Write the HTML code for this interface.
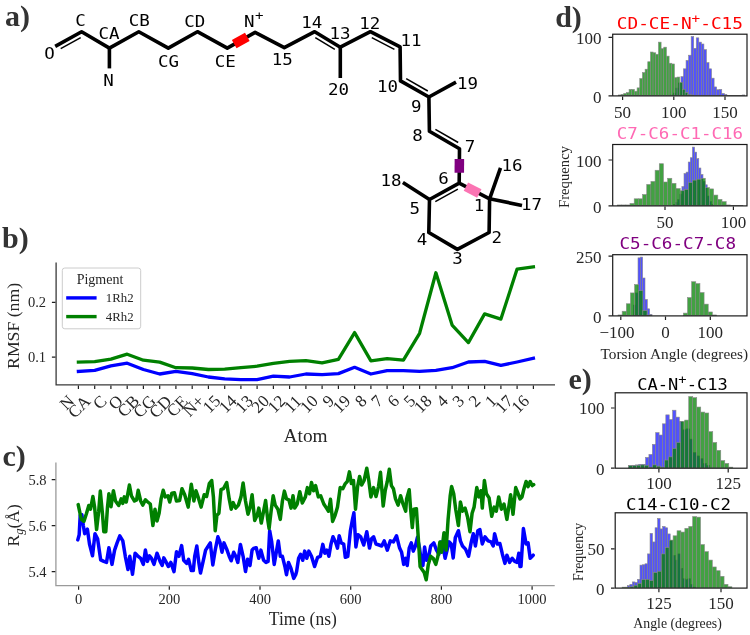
<!DOCTYPE html>
<html lang="en"><head><meta charset="utf-8"><title>Figure</title>
<style>html,body{margin:0;padding:0;background:#fff}svg{display:block}.s{font-family:'Liberation Serif','DejaVu Serif',serif;fill:#262626}.m{font-family:'DejaVu Sans Mono','Liberation Mono',monospace;fill:#000}.pl{font-family:'Liberation Serif','DejaVu Serif',serif;font-weight:bold;fill:#333}</style>
</head><body>
<svg width="750" height="635" viewBox="0 0 750 635">
<rect width="750" height="635" fill="#fff"/>
<g fill="none" stroke="#000" stroke-width="3.6" stroke-linejoin="round" stroke-linecap="butt">
<polyline points="55.2,46.4 81.6,31.7 109.4,48.1 138.8,31.7 168.3,48.1 197.4,31.7 227.3,48.1 255.1,32.4 284.3,47.6 314.7,31.7 340.3,47.2 370.4,31.7 400.1,46.9 400.5,80.9 428.9,97.0 429.4,131.3 459.5,148.7 459.2,183.1 489.6,198.8 489.1,232.5 457.4,249.4 428.8,232.5 429.5,199.5 459.2,183.1"/>
<line x1="109.4" y1="48.1" x2="109.4" y2="68.4"/>
<line x1="340.3" y1="47.2" x2="340.3" y2="78.0"/>
<line x1="428.9" y1="97.0" x2="456.0" y2="82.2"/>
<line x1="489.6" y1="198.8" x2="500.5" y2="167.9"/>
<line x1="489.6" y1="198.8" x2="522.0" y2="205.4"/>
<line x1="429.5" y1="199.5" x2="402.9" y2="182.6"/>
</g>
<line x1="60.7" y1="48.7" x2="80.7" y2="37.6" stroke="#000" stroke-width="1.5"/>
<line x1="315.3" y1="37.6" x2="334.8" y2="49.4" stroke="#000" stroke-width="1.5"/>
<line x1="371.8" y1="37.7" x2="394.4" y2="49.3" stroke="#000" stroke-width="1.5"/>
<line x1="406.2" y1="78.7" x2="427.8" y2="91.0" stroke="#000" stroke-width="1.5"/>
<line x1="435.4" y1="129.3" x2="458.2" y2="142.5" stroke="#000" stroke-width="1.5"/>
<line x1="435.3" y1="201.6" x2="457.9" y2="189.2" stroke="#000" stroke-width="1.5"/>
<line x1="234.2" y1="44.2" x2="247.3" y2="36.8" stroke="#ff0000" stroke-width="9.5"/>
<line x1="459.4" y1="159.0" x2="459.3" y2="172.8" stroke="#800080" stroke-width="9.5"/>
<line x1="465.9" y1="186.6" x2="479.3" y2="193.5" stroke="#fb74b3" stroke-width="9.5"/>
<g class="m" font-size="15.5" text-anchor="middle">
<text transform="translate(49.4 58.9) scale(1.13 1)">O</text>
<text transform="translate(80.6 26.0) scale(1.13 1)">C</text>
<text transform="translate(108.9 38.6) scale(1.13 1)">CA</text>
<text transform="translate(139.3 26.0) scale(1.13 1)">CB</text>
<text transform="translate(108.4 85.5) scale(1.13 1)">N</text>
<text transform="translate(168.5 66.5) scale(1.13 1)">CG</text>
<text transform="translate(194.8 27.2) scale(1.13 1)">CD</text>
<text transform="translate(225.2 67.3) scale(1.13 1)">CE</text>
<text transform="translate(282.3 65.2) scale(1.13 1)">15</text>
<text transform="translate(311.8 27.7) scale(1.13 1)">14</text>
<text transform="translate(340.0 38.6) scale(1.13 1)">13</text>
<text transform="translate(369.7 28.5) scale(1.13 1)">12</text>
<text transform="translate(411.0 46.2) scale(1.13 1)">11</text>
<text transform="translate(338.5 94.9) scale(1.13 1)">20</text>
<text transform="translate(387.4 92.3) scale(1.13 1)">10</text>
<text transform="translate(467.5 88.6) scale(1.13 1)">19</text>
<text transform="translate(416.2 111.9) scale(1.13 1)">9</text>
<text transform="translate(417.5 141.1) scale(1.13 1)">8</text>
<text transform="translate(469.9 151.7) scale(1.13 1)">7</text>
<text transform="translate(512.0 170.5) scale(1.13 1)">16</text>
<text transform="translate(391.0 185.7) scale(1.13 1)">18</text>
<text transform="translate(443.5 183.7) scale(1.13 1)">6</text>
<text transform="translate(414.8 214.1) scale(1.13 1)">5</text>
<text transform="translate(478.9 211.1) scale(1.13 1)">1</text>
<text transform="translate(531.4 210.3) scale(1.13 1)">17</text>
<text transform="translate(496.7 242.5) scale(1.13 1)">2</text>
<text transform="translate(421.9 244.5) scale(1.13 1)">4</text>
<text transform="translate(457.4 263.5) scale(1.13 1)">3</text>
<text transform="translate(249.3 27.2) scale(1.13 1)">N</text>
<text transform="translate(259.3 19.5) scale(1.13 1)" font-size="12.5">+</text>
</g>
<g class="pl" font-size="30">
<text x="5.0" y="25.6">a)</text>
<text x="2.0" y="248.4">b)</text>
<text x="2.4" y="466.4">c)</text>
<text x="555.2" y="26.5">d)</text>
<text x="568.5" y="388.8">e)</text>
</g>
<g fill="none" stroke-linejoin="round" stroke-linecap="square" stroke-width="3.3">
<polyline stroke="#0000ff" points="78.4,371.4 94.7,370.3 110.9,365.8 127.2,363.2 143.4,369.5 159.7,374.0 175.9,371.4 192.2,373.6 208.4,377.0 224.7,378.9 240.9,379.6 257.1,379.6 273.4,376.2 289.6,377.0 305.9,374.0 322.1,374.7 338.4,373.6 354.6,367.3 370.9,374.0 387.1,370.6 403.4,370.6 419.6,371.4 435.9,370.3 452.1,367.7 468.4,362.0 484.6,361.3 500.9,365.4 517.1,362.0 533.4,358.3"/>
<polyline stroke="#008000" points="78.4,362.1 94.7,361.7 110.9,359.1 127.2,354.2 143.4,360.2 159.7,362.1 175.9,367.7 192.2,368.0 208.4,369.5 224.7,369.2 240.9,367.7 257.1,366.2 273.4,363.4 289.6,361.3 305.9,360.6 322.1,362.8 338.4,359.4 354.6,332.6 370.9,360.9 387.1,358.7 403.4,360.2 419.6,333.3 435.9,272.8 452.1,325.1 468.4,342.6 484.6,313.9 500.9,319.1 517.1,269.1 533.4,266.9"/>
</g>
<path d="M56.1 262.4V384.9H555.0" fill="none" stroke="#3a3a3a" stroke-width="1.3"/>
<path d="M78.4 385.5v3.6M94.7 385.5v3.6M110.9 385.5v3.6M127.2 385.5v3.6M143.4 385.5v3.6M159.7 385.5v3.6M175.9 385.5v3.6M192.2 385.5v3.6M208.4 385.5v3.6M224.7 385.5v3.6M240.9 385.5v3.6M257.1 385.5v3.6M273.4 385.5v3.6M289.6 385.5v3.6M305.9 385.5v3.6M322.1 385.5v3.6M338.4 385.5v3.6M354.6 385.5v3.6M370.9 385.5v3.6M387.1 385.5v3.6M403.4 385.5v3.6M419.6 385.5v3.6M435.9 385.5v3.6M452.1 385.5v3.6M468.4 385.5v3.6M484.6 385.5v3.6M500.9 385.5v3.6M517.1 385.5v3.6M533.4 385.5v3.6M55.5 302.3h-3.6M55.5 357.2h-3.6" stroke="#1f1f1f" stroke-width="1.2" fill="none"/>
<g class="s" font-size="14.5" text-anchor="end"><text x="46" y="307.3">0.2</text><text x="46" y="362.4">0.1</text></g>
<g class="s" font-size="17.0" text-anchor="middle">
<text transform="translate(67.0 402.4) rotate(-45)" y="5.6">N</text>
<text transform="translate(79.1 406.6) rotate(-45)" y="5.6">CA</text>
<text transform="translate(99.7 402.2) rotate(-45)" y="5.6">C</text>
<text transform="translate(115.7 402.4) rotate(-45)" y="5.6">O</text>
<text transform="translate(128.3 406.1) rotate(-45)" y="5.6">CB</text>
<text transform="translate(144.3 406.4) rotate(-45)" y="5.6">CG</text>
<text transform="translate(160.3 406.6) rotate(-45)" y="5.6">CD</text>
<text transform="translate(177.1 406.1) rotate(-45)" y="5.6">CE</text>
<text transform="translate(193.6 405.8) rotate(-45)" y="5.6">N+</text>
<text transform="translate(211.6 404.1) rotate(-45)" y="5.6">15</text>
<text transform="translate(227.8 404.1) rotate(-45)" y="5.6">14</text>
<text transform="translate(244.1 404.1) rotate(-45)" y="5.6">13</text>
<text transform="translate(260.3 404.1) rotate(-45)" y="5.6">20</text>
<text transform="translate(276.6 404.1) rotate(-45)" y="5.6">12</text>
<text transform="translate(292.8 404.1) rotate(-45)" y="5.6">11</text>
<text transform="translate(309.1 404.1) rotate(-45)" y="5.6">10</text>
<text transform="translate(328.3 401.1) rotate(-45)" y="5.6">9</text>
<text transform="translate(341.6 404.1) rotate(-45)" y="5.6">19</text>
<text transform="translate(360.8 401.1) rotate(-45)" y="5.6">8</text>
<text transform="translate(377.1 401.1) rotate(-45)" y="5.6">7</text>
<text transform="translate(393.3 401.1) rotate(-45)" y="5.6">6</text>
<text transform="translate(409.6 401.1) rotate(-45)" y="5.6">5</text>
<text transform="translate(422.8 404.1) rotate(-45)" y="5.6">18</text>
<text transform="translate(442.1 401.1) rotate(-45)" y="5.6">4</text>
<text transform="translate(458.3 401.1) rotate(-45)" y="5.6">3</text>
<text transform="translate(474.6 401.1) rotate(-45)" y="5.6">2</text>
<text transform="translate(490.8 401.1) rotate(-45)" y="5.6">1</text>
<text transform="translate(504.1 404.1) rotate(-45)" y="5.6">17</text>
<text transform="translate(520.3 404.1) rotate(-45)" y="5.6">16</text>
</g>
<text class="s" font-size="19.5" text-anchor="middle" x="305.6" y="441.5" textLength="44" lengthAdjust="spacingAndGlyphs">Atom</text>
<text class="s" font-size="17.5" text-anchor="middle" transform="translate(19.3 325.9) rotate(-90)" textLength="86" lengthAdjust="spacingAndGlyphs">RMSF (nm)</text>
<rect x="62.3" y="268" width="78.4" height="60.8" rx="2.5" fill="#fff" fill-opacity="0.8" stroke="#ccc" stroke-width="1"/>
<text class="s" font-size="14" text-anchor="middle" x="100" y="284">Pigment</text>
<line x1="66.2" y1="297.9" x2="96.6" y2="297.9" stroke="#0000ff" stroke-width="3.4"/>
<line x1="66.2" y1="316.6" x2="96.6" y2="316.6" stroke="#008000" stroke-width="3.4"/>
<g class="s" font-size="12.8"><text x="105.8" y="302.1">1Rh2</text><text x="105.8" y="321.1">4Rh2</text></g>
<g fill="none" stroke-linejoin="round" stroke-linecap="round" stroke-width="3.5">
<polyline stroke="#0000ff" points="77.8,539.9 79.2,534.7 80.2,515.3 81.9,514.9 83.3,525.5 84.7,533.7 87.4,529.2 89.5,544.0 92.5,555.8 95.0,533.7 97.6,538.8 100.7,559.9 103.8,561.4 106.5,562.4 108.9,547.7 112.0,564.4 114.6,550.1 117.1,542.9 119.8,535.8 122.8,540.9 125.3,556.3 128.0,569.6 129.8,556.3 132.5,574.3 135.1,553.2 137.6,555.8 140.7,558.3 143.3,564.4 145.4,550.1 147.4,561.4 149.5,555.8 151.5,558.3 154.0,564.4 157.0,553.2 160.1,561.4 162.2,565.5 163.8,557.9 166.3,562.4 168.3,566.5 170.8,562.4 174.0,571.6 176.5,551.7 178.9,556.3 181.6,545.6 183.7,560.3 186.6,563.4 188.6,559.3 191.3,570.6 193.3,570.6 194.7,556.3 196.8,546.0 198.8,562.4 200.5,573.0 202.9,562.4 205.6,550.1 208.3,546.0 210.3,542.9 212.8,564.9 215.2,550.1 217.9,536.8 219.9,541.9 222.0,552.2 224.0,542.9 226.7,549.1 229.2,556.3 231.2,560.8 233.7,552.2 235.7,556.3 237.8,562.4 240.4,544.4 243.1,556.3 245.5,571.6 247.6,559.3 250.0,565.5 252.1,550.1 254.1,548.1 256.2,547.7 258.8,558.3 260.9,550.1 263.6,560.3 266.0,562.4 268.1,561.4 269.7,530.7 271.7,541.9 274.2,564.4 276.3,552.2 278.3,540.9 280.3,556.3 282.4,556.3 284.9,566.5 286.5,574.7 288.5,562.4 291.0,568.5 293.7,578.4 295.7,574.7 296.6,571.6 298.6,558.3 300.6,554.2 302.7,560.3 304.7,551.1 306.8,558.3 308.8,551.1 311.5,556.3 314.6,566.5 317.6,557.3 320.3,556.3 322.8,544.4 324.8,553.2 326.9,550.1 328.9,556.3 331.0,544.0 333.0,536.8 335.5,541.9 337.5,548.1 339.2,535.8 341.2,542.9 343.7,544.0 345.3,557.3 347.8,556.3 350.4,530.7 352.5,519.4 353.9,512.8 355.9,547.0 358.0,534.7 360.7,536.8 363.7,545.0 366.8,531.7 369.5,548.1 371.5,538.8 373.6,536.8 376.0,544.0 379.1,545.0 381.7,546.0 384.2,540.9 387.3,550.1 390.3,540.9 393.4,541.9 396.5,535.8 399.6,548.1 401.6,552.2 403.7,564.4 405.7,558.3 407.2,565.5 409.2,548.1 411.3,542.9 413.3,551.1 415.4,546.0 417.4,537.4 419.5,548.1 421.5,562.4 422.9,565.5 424.6,547.0 426.6,560.3 428.7,556.3 430.7,546.0 433.8,542.9 436.5,550.1 438.9,554.2 441.0,541.9 443.0,546.0 445.1,558.3 447.1,550.1 449.2,541.9 451.2,544.0 453.2,557.9 455.3,537.8 458.4,530.7 460.4,540.9 462.5,546.0 465.5,549.1 468.6,556.3 471.3,541.9 473.3,533.7 475.4,546.0 477.8,530.7 479.9,529.6 482.3,544.0 485.0,536.8 488.1,540.9 491.1,541.9 493.2,546.0 494.6,533.7 497.3,544.0 499.9,543.6 502.4,554.2 504.9,563.4 506.9,555.2 509.6,562.4 512.2,558.3 514.7,561.4 517.1,562.4 518.8,553.2 520.0,566.5 521.0,566.5 523.4,528.6 526.1,544.0 528.1,542.9 530.2,558.3 533.2,555.2"/>
<polyline stroke="#008000" points="78.2,504.6 81.3,519.4 83.9,521.4 86.4,513.7 88.8,505.5 90.5,509.2 92.9,496.5 94.6,507.1 96.6,529.6 98.7,511.2 100.3,491.1 102.4,513.2 103.8,531.7 105.8,531.7 107.5,507.1 108.9,493.8 111.0,506.7 113.4,490.7 115.5,501.0 118.7,505.5 121.2,498.9 122.8,503.4 124.3,496.9 126.3,502.0 129.4,485.0 131.4,495.8 134.5,501.0 136.6,499.9 138.2,490.3 140.7,501.0 142.7,505.1 145.4,499.9 147.8,502.0 150.3,504.0 152.9,525.5 155.0,509.2 157.0,521.0 159.1,513.2 161.1,498.9 163.2,490.3 165.2,496.9 167.9,495.8 169.7,502.0 171.8,493.2 174.4,492.8 176.5,501.0 179.6,500.5 182.0,488.7 184.7,494.8 188.2,507.1 191.3,484.2 193.9,501.0 196.0,490.7 198.4,497.9 201.1,507.1 204.2,494.8 206.6,496.5 209.3,483.6 211.7,480.5 213.4,496.9 215.2,530.7 216.9,515.3 218.9,513.2 221.0,489.7 223.4,488.7 226.7,482.5 229.2,498.9 231.2,509.2 233.2,502.6 235.7,508.1 238.4,505.1 241.0,496.9 243.1,482.9 245.5,501.0 248.0,514.3 250.2,507.1 252.1,494.8 254.7,520.4 257.2,515.3 258.8,508.1 261.3,523.1 263.6,511.2 265.6,500.5 267.7,519.4 269.1,528.6 271.1,511.2 273.2,495.8 275.2,505.1 277.9,509.2 280.3,519.4 282.4,501.0 284.4,491.1 286.5,498.9 288.9,499.9 291.0,508.1 293.0,495.8 294.7,508.1 297.2,504.0 299.8,491.7 302.3,503.0 305.4,496.9 307.4,487.6 309.5,493.8 311.5,482.5 313.6,490.7 315.6,485.6 318.3,496.9 320.7,495.8 323.8,504.0 326.5,508.1 328.5,511.2 330.5,499.3 332.6,521.4 335.1,515.3 337.5,507.1 340.2,487.6 342.8,488.7 345.3,483.6 347.3,481.5 349.4,471.9 351.4,483.6 353.5,480.5 355.5,509.2 357.6,486.6 359.6,476.4 361.7,485.0 364.1,480.5 366.8,468.2 368.8,480.5 370.9,496.9 373.6,487.6 376.0,496.5 378.5,486.6 380.5,472.3 383.2,506.1 385.2,490.7 387.3,481.5 389.3,469.2 391.4,485.6 393.4,488.7 395.5,498.9 398.1,505.1 400.6,495.8 403.0,504.0 405.7,511.2 406.6,498.9 409.2,489.7 410.6,509.2 412.3,527.6 413.9,509.2 416.4,508.7 418.0,533.7 420.1,566.5 422.1,569.6 424.2,572.6 426.2,579.8 428.3,564.4 430.7,556.3 433.2,558.3 435.8,564.4 437.9,556.3 439.9,541.9 441.6,552.2 444.0,532.7 446.1,550.1 448.1,519.4 450.2,495.8 451.6,486.6 453.7,493.8 455.7,509.2 458.4,525.5 460.4,502.0 462.5,511.2 465.1,508.1 467.6,517.3 470.0,531.7 472.1,513.2 474.1,507.1 476.8,487.6 478.8,496.9 480.9,490.7 482.3,508.1 484.4,480.5 486.4,493.8 489.1,497.9 491.7,516.3 494.2,507.1 496.3,511.2 498.7,496.9 501.4,509.2 504.0,504.0 506.9,519.4 510.6,494.8 513.0,514.3 515.7,487.6 517.8,492.8 520.0,498.9 522.0,496.9 524.0,488.7 526.1,481.5 528.1,486.6 530.2,481.5 532.2,485.6 533.7,484.6"/>
</g>
<path d="M55.9 462.4V585.6H554.7" fill="none" stroke="#9a9a9a" stroke-width="1.3"/>
<path d="M78.6 586.2v3.6M169.3 586.2v3.6M260.0 586.2v3.6M350.7 586.2v3.6M441.4 586.2v3.6M532.1 586.2v3.6M55.3 479.7h-3.6M55.3 525.6h-3.6M55.3 571.6h-3.6" stroke="#1f1f1f" stroke-width="1.2" fill="none"/>
<g class="s" font-size="14.5" text-anchor="end"><text x="46.6" y="485.2">5.8</text><text x="46.6" y="531.1">5.6</text><text x="46.6" y="577.2">5.4</text></g>
<g class="s" font-size="14.5" text-anchor="middle">
<text x="78.6" y="604.3">0</text>
<text x="169.3" y="604.3">200</text>
<text x="260.0" y="604.3">400</text>
<text x="350.7" y="604.3">600</text>
<text x="441.4" y="604.3">800</text>
<text x="532.1" y="604.3">1000</text>
</g>
<text class="s" font-size="19.5" text-anchor="middle" x="302.8" y="625.2" textLength="68" lengthAdjust="spacingAndGlyphs">Time (ns)</text>
<text class="s" font-size="17.5" text-anchor="middle" transform="translate(19.1 525.4) rotate(-90)">R<tspan font-style="italic" font-size="12.5" dy="3.5">g</tspan><tspan dy="-3.5">(Å)</tspan></text>
<clipPath id="c1"><rect x="612.7" y="34.2" width="134.3" height="61.7"/></clipPath>
<g clip-path="url(#c1)">
<g fill="#0000ff" fill-opacity="0.68" stroke="#8a8a8a" stroke-width="0.6">
<rect x="670.76" y="94.96" width="2.55" height="0.75"/>
<rect x="673.31" y="93.10" width="2.55" height="2.61"/>
<rect x="675.86" y="88.05" width="2.55" height="7.65"/>
<rect x="678.41" y="83.01" width="2.55" height="12.69"/>
<rect x="680.96" y="76.67" width="2.55" height="19.04"/>
<rect x="683.51" y="68.83" width="2.55" height="26.88"/>
<rect x="686.06" y="60.43" width="2.55" height="35.28"/>
<rect x="688.61" y="55.20" width="2.55" height="40.51"/>
<rect x="691.16" y="36.53" width="2.55" height="59.17"/>
<rect x="693.71" y="48.29" width="2.55" height="47.41"/>
<rect x="696.26" y="37.84" width="2.55" height="57.87"/>
<rect x="698.81" y="42.13" width="2.55" height="53.57"/>
<rect x="701.36" y="44.00" width="2.55" height="51.71"/>
<rect x="703.91" y="49.60" width="2.55" height="46.11"/>
<rect x="706.46" y="62.67" width="2.55" height="33.04"/>
<rect x="709.01" y="68.83" width="2.55" height="26.88"/>
<rect x="711.56" y="78.16" width="2.55" height="17.55"/>
<rect x="714.11" y="86.93" width="2.55" height="8.77"/>
<rect x="716.66" y="89.73" width="2.55" height="5.97"/>
<rect x="719.21" y="89.36" width="2.55" height="6.35"/>
<rect x="721.76" y="93.47" width="2.55" height="2.24"/>
<rect x="724.31" y="94.40" width="2.55" height="1.31"/>
<rect x="726.86" y="95.34" width="2.55" height="0.37"/>
<rect x="729.41" y="95.34" width="2.55" height="0.37"/>
<rect x="731.96" y="95.34" width="2.55" height="0.37"/>
<rect x="734.51" y="95.34" width="2.55" height="0.37"/>
<rect x="737.06" y="95.34" width="2.55" height="0.37"/>
<rect x="739.61" y="95.34" width="2.55" height="0.37"/>
<rect x="742.16" y="94.96" width="2.55" height="0.75"/>
</g>
<g fill="#008000" fill-opacity="0.74" stroke="#8a8a8a" stroke-width="0.6">
<rect x="618.40" y="94.96" width="2.67" height="0.75"/>
<rect x="621.07" y="94.40" width="2.67" height="1.31"/>
<rect x="623.74" y="93.47" width="2.67" height="2.24"/>
<rect x="626.41" y="92.54" width="2.67" height="3.17"/>
<rect x="629.08" y="89.36" width="2.67" height="6.35"/>
<rect x="631.75" y="89.36" width="2.67" height="6.35"/>
<rect x="634.42" y="91.23" width="2.67" height="4.48"/>
<rect x="637.09" y="87.87" width="2.67" height="7.84"/>
<rect x="639.76" y="78.53" width="2.67" height="17.17"/>
<rect x="642.42" y="72.56" width="2.67" height="23.15"/>
<rect x="645.09" y="69.20" width="2.67" height="26.51"/>
<rect x="647.76" y="61.73" width="2.67" height="33.97"/>
<rect x="650.43" y="52.03" width="2.67" height="43.68"/>
<rect x="653.10" y="52.77" width="2.67" height="42.93"/>
<rect x="655.77" y="54.27" width="2.67" height="41.44"/>
<rect x="658.44" y="42.13" width="2.67" height="53.57"/>
<rect x="661.11" y="48.67" width="2.67" height="47.04"/>
<rect x="663.78" y="47.17" width="2.67" height="48.53"/>
<rect x="666.45" y="56.13" width="2.67" height="39.57"/>
<rect x="669.12" y="63.23" width="2.67" height="32.48"/>
<rect x="671.79" y="63.97" width="2.67" height="31.73"/>
<rect x="674.46" y="77.60" width="2.67" height="18.11"/>
<rect x="677.13" y="77.04" width="2.67" height="18.67"/>
<rect x="679.80" y="82.27" width="2.67" height="13.44"/>
<rect x="682.47" y="89.36" width="2.67" height="6.35"/>
<rect x="685.14" y="92.54" width="2.67" height="3.17"/>
<rect x="687.80" y="94.40" width="2.67" height="1.31"/>
<rect x="690.47" y="94.96" width="2.67" height="0.75"/>
</g>
</g>
<rect x="612.7" y="34.2" width="134.3" height="61.7" fill="none" stroke="#1a1a1a" stroke-width="1.2"/>
<clipPath id="c2"><rect x="612.7" y="144.5" width="134.3" height="61.4"/></clipPath>
<g clip-path="url(#c2)">
<g fill="#0000ff" fill-opacity="0.68" stroke="#8a8a8a" stroke-width="0.6">
<rect x="673.47" y="204.40" width="2.11" height="1.31"/>
<rect x="675.58" y="202.54" width="2.11" height="3.17"/>
<rect x="677.69" y="199.73" width="2.11" height="5.97"/>
<rect x="679.80" y="194.13" width="2.11" height="11.57"/>
<rect x="681.91" y="186.67" width="2.11" height="19.04"/>
<rect x="684.02" y="173.60" width="2.11" height="32.11"/>
<rect x="686.12" y="172.11" width="2.11" height="33.60"/>
<rect x="688.23" y="162.03" width="2.11" height="43.68"/>
<rect x="690.34" y="157.73" width="2.11" height="47.97"/>
<rect x="692.45" y="147.09" width="2.11" height="58.61"/>
<rect x="694.56" y="152.13" width="2.11" height="53.57"/>
<rect x="696.67" y="158.67" width="2.11" height="47.04"/>
<rect x="698.78" y="168.00" width="2.11" height="37.71"/>
<rect x="700.89" y="174.53" width="2.11" height="31.17"/>
<rect x="703.00" y="181.44" width="2.11" height="24.27"/>
<rect x="705.11" y="184.80" width="2.11" height="20.91"/>
<rect x="707.22" y="196.00" width="2.11" height="9.71"/>
<rect x="709.33" y="201.60" width="2.11" height="4.11"/>
<rect x="711.44" y="204.40" width="2.11" height="1.31"/>
</g>
<g fill="#008000" fill-opacity="0.74" stroke="#8a8a8a" stroke-width="0.6">
<rect x="617.47" y="204.96" width="4.18" height="0.75"/>
<rect x="621.65" y="204.96" width="4.18" height="0.75"/>
<rect x="625.83" y="204.96" width="4.18" height="0.75"/>
<rect x="630.01" y="203.47" width="4.18" height="2.24"/>
<rect x="634.19" y="198.80" width="4.18" height="6.91"/>
<rect x="638.37" y="198.80" width="4.18" height="6.91"/>
<rect x="642.56" y="194.51" width="4.18" height="11.20"/>
<rect x="646.74" y="184.43" width="4.18" height="21.28"/>
<rect x="650.92" y="181.44" width="4.18" height="24.27"/>
<rect x="655.10" y="170.24" width="4.18" height="35.47"/>
<rect x="659.28" y="163.71" width="4.18" height="42.00"/>
<rect x="663.46" y="182.00" width="4.18" height="23.71"/>
<rect x="667.64" y="178.27" width="4.18" height="27.44"/>
<rect x="671.83" y="183.31" width="4.18" height="22.40"/>
<rect x="676.01" y="188.53" width="4.18" height="17.17"/>
<rect x="680.19" y="190.77" width="4.18" height="14.93"/>
<rect x="684.37" y="189.47" width="4.18" height="16.24"/>
<rect x="688.55" y="182.56" width="4.18" height="23.15"/>
<rect x="692.73" y="180.13" width="4.18" height="25.57"/>
<rect x="696.91" y="179.20" width="4.18" height="26.51"/>
<rect x="701.10" y="178.27" width="4.18" height="27.44"/>
<rect x="705.28" y="187.60" width="4.18" height="18.11"/>
<rect x="709.46" y="188.91" width="4.18" height="16.80"/>
<rect x="713.64" y="195.07" width="4.18" height="10.64"/>
<rect x="717.82" y="199.36" width="4.18" height="6.35"/>
<rect x="722.00" y="201.60" width="4.18" height="4.11"/>
<rect x="726.18" y="204.96" width="4.18" height="0.75"/>
<rect x="730.37" y="205.34" width="4.18" height="0.37"/>
<rect x="734.55" y="205.34" width="4.18" height="0.37"/>
<rect x="738.73" y="205.34" width="4.18" height="0.37"/>
</g>
</g>
<rect x="612.7" y="144.5" width="134.3" height="61.4" fill="none" stroke="#1a1a1a" stroke-width="1.2"/>
<clipPath id="c3"><rect x="612.7" y="254.7" width="134.3" height="61.2"/></clipPath>
<g clip-path="url(#c3)">
<g fill="#0000ff" fill-opacity="0.68" stroke="#8a8a8a" stroke-width="0.6">
<rect x="633.33" y="305.07" width="2.33" height="10.64"/>
<rect x="635.67" y="292.93" width="2.33" height="22.77"/>
<rect x="638.00" y="257.84" width="2.33" height="57.87"/>
<rect x="640.33" y="257.09" width="2.33" height="58.61"/>
<rect x="642.67" y="278.00" width="2.33" height="37.71"/>
<rect x="645.00" y="299.47" width="2.33" height="16.24"/>
<rect x="647.33" y="308.80" width="2.33" height="6.91"/>
<rect x="649.67" y="314.40" width="2.33" height="1.31"/>
</g>
<g fill="#008000" fill-opacity="0.74" stroke="#8a8a8a" stroke-width="0.6">
<rect x="618.03" y="314.96" width="4.14" height="0.75"/>
<rect x="622.17" y="311.23" width="4.14" height="4.48"/>
<rect x="626.32" y="303.76" width="4.14" height="11.95"/>
<rect x="630.46" y="292.93" width="4.14" height="22.77"/>
<rect x="634.60" y="284.53" width="4.14" height="31.17"/>
<rect x="638.75" y="290.69" width="4.14" height="25.01"/>
<rect x="642.89" y="310.67" width="4.14" height="5.04"/>
<rect x="647.04" y="314.96" width="4.14" height="0.75"/>
</g>
<g fill="#008000" fill-opacity="0.74" stroke="#8a8a8a" stroke-width="0.6">
<rect x="683.36" y="313.10" width="4.14" height="2.61"/>
<rect x="687.51" y="297.60" width="4.14" height="18.11"/>
<rect x="691.65" y="281.73" width="4.14" height="33.97"/>
<rect x="695.79" y="283.60" width="4.14" height="32.11"/>
<rect x="699.94" y="292.56" width="4.14" height="23.15"/>
<rect x="704.08" y="304.13" width="4.14" height="11.57"/>
<rect x="708.23" y="311.97" width="4.14" height="3.73"/>
<rect x="712.37" y="314.96" width="4.14" height="0.75"/>
</g>
</g>
<rect x="612.7" y="254.7" width="134.3" height="61.2" fill="none" stroke="#1a1a1a" stroke-width="1.2"/>
<clipPath id="c4"><rect x="615.2" y="392.8" width="131.8" height="75.4"/></clipPath>
<g clip-path="url(#c4)">
<g fill="#0000ff" fill-opacity="0.68" stroke="#8a8a8a" stroke-width="0.6">
<rect x="628.67" y="465.64" width="3.38" height="2.43"/>
<rect x="632.05" y="465.27" width="3.38" height="2.80"/>
<rect x="635.42" y="464.90" width="3.38" height="3.17"/>
<rect x="638.80" y="464.34" width="3.38" height="3.73"/>
<rect x="642.18" y="464.34" width="3.38" height="3.73"/>
<rect x="645.56" y="457.43" width="3.38" height="10.64"/>
<rect x="648.94" y="454.44" width="3.38" height="13.63"/>
<rect x="652.32" y="444.36" width="3.38" height="23.71"/>
<rect x="655.70" y="432.60" width="3.38" height="35.47"/>
<rect x="659.08" y="435.03" width="3.38" height="33.04"/>
<rect x="662.45" y="423.83" width="3.38" height="44.24"/>
<rect x="665.83" y="414.87" width="3.38" height="53.20"/>
<rect x="669.21" y="419.53" width="3.38" height="48.53"/>
<rect x="672.59" y="410.20" width="3.38" height="57.87"/>
<rect x="675.97" y="417.11" width="3.38" height="50.96"/>
<rect x="679.35" y="421.40" width="3.38" height="46.67"/>
<rect x="682.73" y="429.80" width="3.38" height="38.27"/>
<rect x="686.11" y="428.87" width="3.38" height="39.20"/>
<rect x="689.48" y="439.13" width="3.38" height="28.93"/>
<rect x="692.86" y="452.58" width="3.38" height="15.49"/>
<rect x="696.24" y="455.94" width="3.38" height="12.13"/>
<rect x="699.62" y="458.74" width="3.38" height="9.33"/>
<rect x="703.00" y="463.40" width="3.38" height="4.67"/>
<rect x="706.38" y="465.64" width="3.38" height="2.43"/>
</g>
<g fill="#008000" fill-opacity="0.74" stroke="#8a8a8a" stroke-width="0.6">
<rect x="628.67" y="465.64" width="4.00" height="2.43"/>
<rect x="632.67" y="465.64" width="4.00" height="2.43"/>
<rect x="636.68" y="465.27" width="4.00" height="2.80"/>
<rect x="640.68" y="464.90" width="4.00" height="3.17"/>
<rect x="644.68" y="465.27" width="4.00" height="2.80"/>
<rect x="648.69" y="467.14" width="4.00" height="0.93"/>
<rect x="652.69" y="464.90" width="4.00" height="3.17"/>
<rect x="656.70" y="466.20" width="4.00" height="1.87"/>
<rect x="660.70" y="467.14" width="4.00" height="0.93"/>
<rect x="664.70" y="460.04" width="4.00" height="8.03"/>
<rect x="668.71" y="456.87" width="4.00" height="11.20"/>
<rect x="672.71" y="448.47" width="4.00" height="19.60"/>
<rect x="676.72" y="442.49" width="4.00" height="25.57"/>
<rect x="680.72" y="421.40" width="4.00" height="46.67"/>
<rect x="684.72" y="420.09" width="4.00" height="47.97"/>
<rect x="688.73" y="396.57" width="4.00" height="71.50"/>
<rect x="692.73" y="397.69" width="4.00" height="70.38"/>
<rect x="696.74" y="407.03" width="4.00" height="61.04"/>
<rect x="700.74" y="412.07" width="4.00" height="56.00"/>
<rect x="704.75" y="413.00" width="4.00" height="55.07"/>
<rect x="708.75" y="431.67" width="4.00" height="36.40"/>
<rect x="712.75" y="442.49" width="4.00" height="25.57"/>
<rect x="716.76" y="450.34" width="4.00" height="17.73"/>
<rect x="720.76" y="460.60" width="4.00" height="7.47"/>
<rect x="724.77" y="463.40" width="4.00" height="4.67"/>
<rect x="728.77" y="467.14" width="4.00" height="0.93"/>
</g>
</g>
<rect x="615.2" y="392.8" width="131.8" height="75.4" fill="none" stroke="#1a1a1a" stroke-width="1.2"/>
<clipPath id="c5"><rect x="615.2" y="512.8" width="131.8" height="75.3"/></clipPath>
<g clip-path="url(#c5)">
<g fill="#0000ff" fill-opacity="0.68" stroke="#8a8a8a" stroke-width="0.6">
<rect x="627.36" y="585.64" width="2.52" height="2.43"/>
<rect x="629.88" y="584.34" width="2.52" height="3.73"/>
<rect x="632.40" y="581.91" width="2.52" height="6.16"/>
<rect x="634.92" y="582.47" width="2.52" height="5.60"/>
<rect x="637.44" y="579.30" width="2.52" height="8.77"/>
<rect x="639.96" y="565.11" width="2.52" height="22.96"/>
<rect x="642.48" y="564.73" width="2.52" height="23.33"/>
<rect x="645.00" y="563.80" width="2.52" height="24.27"/>
<rect x="647.52" y="553.91" width="2.52" height="34.16"/>
<rect x="650.04" y="533.37" width="2.52" height="54.69"/>
<rect x="652.56" y="541.96" width="2.52" height="46.11"/>
<rect x="655.08" y="527.77" width="2.52" height="60.29"/>
<rect x="657.60" y="518.44" width="2.52" height="69.63"/>
<rect x="660.12" y="528.89" width="2.52" height="59.17"/>
<rect x="662.64" y="526.47" width="2.52" height="61.60"/>
<rect x="665.16" y="527.77" width="2.52" height="60.29"/>
<rect x="667.68" y="533.93" width="2.52" height="54.13"/>
<rect x="670.20" y="540.47" width="2.52" height="47.60"/>
<rect x="672.72" y="555.40" width="2.52" height="32.67"/>
<rect x="675.24" y="560.07" width="2.52" height="28.00"/>
<rect x="677.76" y="553.91" width="2.52" height="34.16"/>
<rect x="680.28" y="568.47" width="2.52" height="19.60"/>
<rect x="682.80" y="578.74" width="2.52" height="9.33"/>
<rect x="685.32" y="579.67" width="2.52" height="8.40"/>
<rect x="687.84" y="578.74" width="2.52" height="9.33"/>
<rect x="690.36" y="584.34" width="2.52" height="3.73"/>
<rect x="692.88" y="587.14" width="2.52" height="0.93"/>
</g>
<g fill="#008000" fill-opacity="0.74" stroke="#8a8a8a" stroke-width="0.6">
<rect x="622.13" y="587.14" width="3.92" height="0.93"/>
<rect x="626.05" y="587.14" width="3.92" height="0.93"/>
<rect x="629.97" y="586.76" width="3.92" height="1.31"/>
<rect x="633.89" y="585.27" width="3.92" height="2.80"/>
<rect x="637.81" y="583.40" width="3.92" height="4.67"/>
<rect x="641.73" y="579.67" width="3.92" height="8.40"/>
<rect x="645.65" y="579.30" width="3.92" height="8.77"/>
<rect x="649.57" y="580.60" width="3.92" height="7.47"/>
<rect x="653.49" y="572.58" width="3.92" height="15.49"/>
<rect x="657.41" y="571.27" width="3.92" height="16.80"/>
<rect x="661.33" y="553.91" width="3.92" height="34.16"/>
<rect x="665.25" y="547.56" width="3.92" height="40.51"/>
<rect x="669.17" y="540.09" width="3.92" height="47.97"/>
<rect x="673.10" y="535.80" width="3.92" height="52.27"/>
<rect x="677.02" y="530.76" width="3.92" height="57.31"/>
<rect x="680.94" y="532.07" width="3.92" height="56.00"/>
<rect x="684.86" y="528.33" width="3.92" height="59.73"/>
<rect x="688.78" y="526.47" width="3.92" height="61.60"/>
<rect x="692.70" y="516.57" width="3.92" height="71.50"/>
<rect x="696.62" y="517.13" width="3.92" height="70.94"/>
<rect x="700.54" y="544.57" width="3.92" height="43.49"/>
<rect x="704.46" y="551.67" width="3.92" height="36.40"/>
<rect x="708.38" y="560.07" width="3.92" height="28.00"/>
<rect x="712.30" y="566.97" width="3.92" height="21.09"/>
<rect x="716.22" y="570.71" width="3.92" height="17.36"/>
<rect x="720.14" y="576.31" width="3.92" height="11.76"/>
<rect x="724.06" y="584.34" width="3.92" height="3.73"/>
<rect x="727.98" y="586.76" width="3.92" height="1.31"/>
</g>
</g>
<rect x="615.2" y="512.8" width="131.8" height="75.3" fill="none" stroke="#1a1a1a" stroke-width="1.2"/>
<path d="M622.6 96.5v3.6M673.8 96.5v3.6M725.0 96.5v3.6M612.1 37.4h-3.6M612.1 95.9h-3.6" stroke="#1f1f1f" stroke-width="1.2" fill="none"/>
<path d="M665.0 206.5v3.6M733.4 206.5v3.6M612.1 160.0h-3.6M612.1 205.9h-3.6" stroke="#1f1f1f" stroke-width="1.2" fill="none"/>
<path d="M620.8 316.5v3.6M665.5 316.5v3.6M710.3 316.5v3.6M612.1 256.1h-3.6M612.1 315.9h-3.6" stroke="#1f1f1f" stroke-width="1.2" fill="none"/>
<path d="M658.9 468.8v3.6M728.2 468.8v3.6M614.6 408.0h-3.6M614.6 468.2h-3.6" stroke="#1f1f1f" stroke-width="1.2" fill="none"/>
<path d="M658.9 588.7v3.6M721.0 588.7v3.6M614.6 548.9h-3.6M614.6 588.1h-3.6" stroke="#1f1f1f" stroke-width="1.2" fill="none"/>
<g class="s" font-size="17.0">
<text transform="translate(601.6 44.0) scale(1 1)" text-anchor="end">100</text>
<text transform="translate(601.6 102.6) scale(1 1)" text-anchor="end">0</text>
<text transform="translate(601.6 166.6) scale(1 1)" text-anchor="end">100</text>
<text transform="translate(601.6 212.6) scale(1 1)" text-anchor="end">0</text>
<text transform="translate(601.6 262.7) scale(1 1)" text-anchor="end">250</text>
<text transform="translate(601.6 322.6) scale(1 1)" text-anchor="end">0</text>
<text transform="translate(604.6 414.3) scale(1 1)" text-anchor="end">100</text>
<text transform="translate(604.6 474.6) scale(1 1)" text-anchor="end">0</text>
<text transform="translate(604.6 555.2) scale(1 1)" text-anchor="end">50</text>
<text transform="translate(604.6 594.5) scale(1 1)" text-anchor="end">0</text>
<text transform="translate(622.6 118.1) scale(1 1)" text-anchor="middle">50</text>
<text transform="translate(673.8 118.1) scale(1 1)" text-anchor="middle">100</text>
<text transform="translate(725.0 118.1) scale(1 1)" text-anchor="middle">150</text>
<text transform="translate(665.0 228.2) scale(1 1)" text-anchor="middle">50</text>
<text transform="translate(733.4 228.2) scale(1 1)" text-anchor="middle">100</text>
<text transform="translate(617.0 338.3) scale(1 1)" text-anchor="middle">−100</text>
<text transform="translate(665.5 338.3) scale(1 1)" text-anchor="middle">0</text>
<text transform="translate(710.3 338.3) scale(1 1)" text-anchor="middle">100</text>
<text transform="translate(658.9 489.0) scale(1 1)" text-anchor="middle">100</text>
<text transform="translate(728.2 489.0) scale(1 1)" text-anchor="middle">125</text>
<text transform="translate(658.9 609.0) scale(1 1)" text-anchor="middle">125</text>
<text transform="translate(721.0 609.0) scale(1 1)" text-anchor="middle">150</text>
</g>
<text class="s" font-size="14.3" x="600.5" y="359.3" textLength="147.5" lengthAdjust="spacingAndGlyphs">Torsion Angle (degrees)</text>
<text class="s" font-size="14.3" x="633.3" y="627.6" textLength="88.5" lengthAdjust="spacingAndGlyphs">Angle (degrees)</text>
<text class="s" font-size="14.3" text-anchor="middle" transform="translate(568.7 177) rotate(-90)" textLength="62" lengthAdjust="spacingAndGlyphs">Frequency</text>
<text class="s" font-size="14.3" text-anchor="middle" transform="translate(582.5 552) rotate(-90)" textLength="58" lengthAdjust="spacingAndGlyphs">Frequency</text>
<text font-family="'DejaVu Sans Mono','Liberation Mono',monospace" font-size="15.5" fill="#ff0000" x="616.8" y="28.5" textLength="126.2" lengthAdjust="spacingAndGlyphs">CD-CE-N<tspan font-size="12.5" dy="-6">+</tspan><tspan dy="6">-C15</tspan></text>
<text font-family="'DejaVu Sans Mono','Liberation Mono',monospace" font-size="15.5" fill="#ff69b4" x="616.8" y="139.0" textLength="126.2" lengthAdjust="spacingAndGlyphs">C7-C6-C1-C16</text>
<text font-family="'DejaVu Sans Mono','Liberation Mono',monospace" font-size="15.5" fill="#800080" x="619.5" y="249.0" textLength="116.5" lengthAdjust="spacingAndGlyphs">C5-C6-C7-C8</text>
<text font-family="'DejaVu Sans Mono','Liberation Mono',monospace" font-size="15.5" fill="#000" x="637.3" y="389.5" textLength="90.4" lengthAdjust="spacingAndGlyphs">CA-N<tspan font-size="12.5" dy="-6">+</tspan><tspan dy="6">-C13</tspan></text>
<text font-family="'DejaVu Sans Mono','Liberation Mono',monospace" font-size="15.5" fill="#000" x="625.9" y="510.3" textLength="105.1" lengthAdjust="spacingAndGlyphs">C14-C10-C2</text>
</svg></body></html>
